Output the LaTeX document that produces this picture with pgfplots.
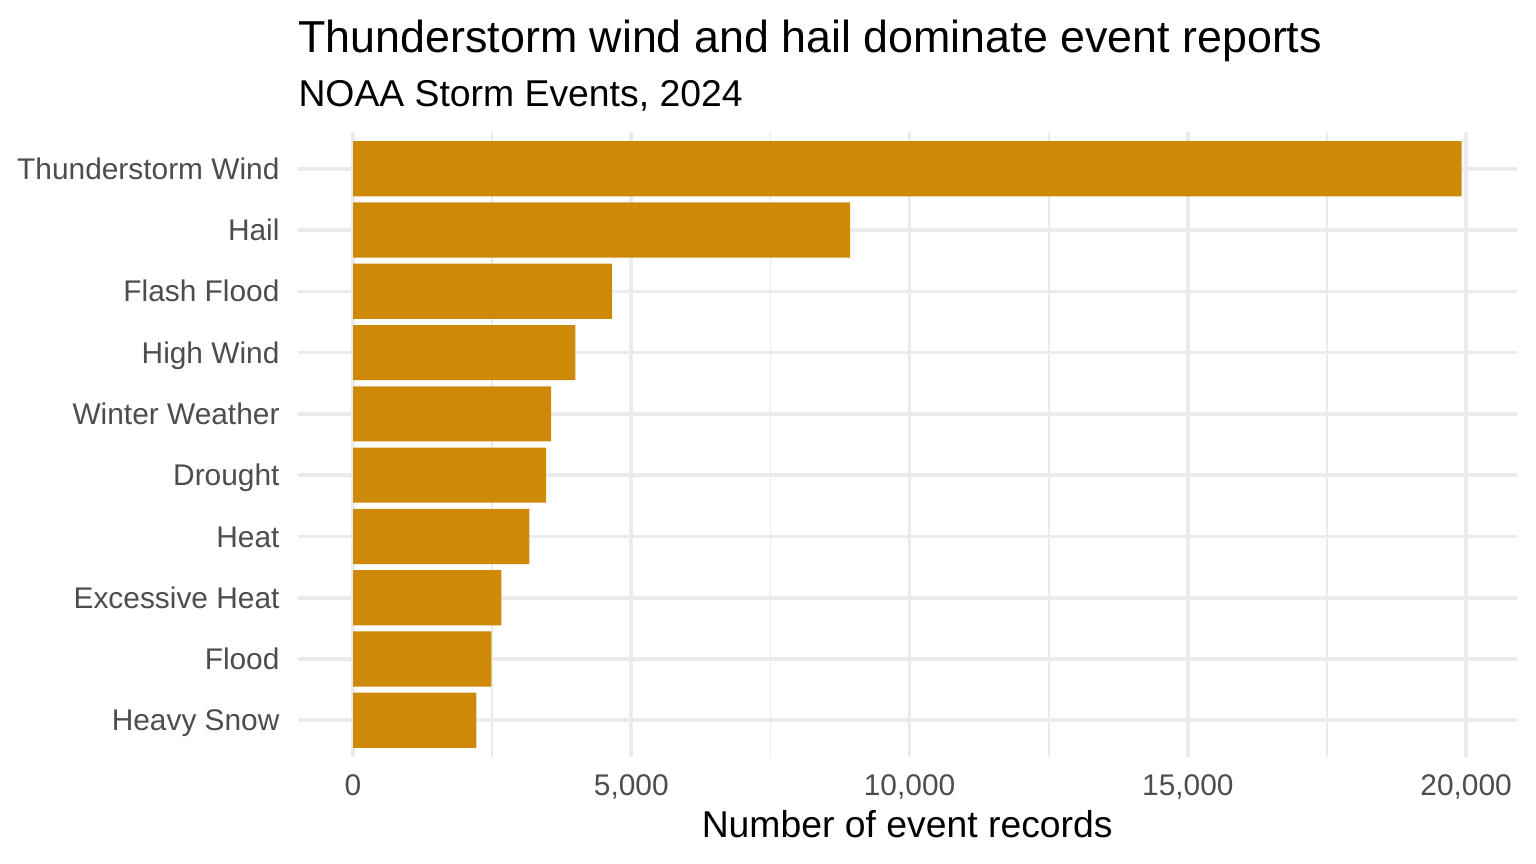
\documentclass[border=0pt]{standalone}
\usepackage{pgfplots}
\pgfplotsset{compat=1.18}
\usepackage{fontspec}
\setmainfont{Liberation Sans}
\definecolor{barc}{RGB}{207,137,8}
\definecolor{gridc}{RGB}{235,235,235}
\definecolor{tickc}{RGB}{77,77,77}
\begin{document}
\begin{tikzpicture}
\useasboundingbox (0,0) rectangle (576pt,324pt);
\begin{axis}[
  at={(111.6pt,40.1pt)}, anchor=south west,
  scale only axis, width=457.3pt, height=234.4pt,
  xmin=-996, xmax=20916, ymin=0.4, ymax=10.6,
  axis line style={draw=none},
  major tick length=0pt, minor tick length=0pt,
  scaled x ticks=false,
  xtick={0,5000,10000,15000,20000},
  xticklabels={0,{5,000},{10,000},{15,000},{20,000}},
  minor xtick={2500,7500,12500,17500},
  ytick={1,...,10},
  yticklabels={Heavy Snow,Flood,Excessive Heat,Heat,Drought,Winter Weather,High Wind,Flash Flood,Hail,Thunderstorm Wind},
  xmajorgrids, xminorgrids, ymajorgrids,
  major grid style={gridc, line width=1.36pt},
  minor grid style={gridc, line width=0.68pt},
  tick label style={font=\fontsize{11.2}{13}\selectfont, text=tickc, inner sep=0pt},
  xticklabel style={anchor=base, yshift=-14.5pt},
  yticklabel style={anchor=base east, xshift=-6.6pt, yshift=-4pt},
]
\addplot[xbar, bar width=0.9, fill=barc, draw=none] coordinates {
(2218,1) (2487,2) (2666,3) (3168,4) (3470,5) (3560,6) (3995,7) (4655,8) (8930,9) (19920,10)};
\end{axis}
\node[anchor=base west, inner sep=0pt, font=\fontsize{16.8}{20}\selectfont] at (111.75pt,304.2pt) {Thunderstorm wind and hail dominate event reports};
\node[anchor=base west, inner sep=0pt, font=\fontsize{14}{17}\selectfont] at (111.75pt,284pt) {NOAA Storm Events, 2024};
\node[anchor=base, inner sep=0pt, font=\fontsize{14}{17}\selectfont] at (340.2pt,10pt) {Number of event records};
\end{tikzpicture}
\end{document}
